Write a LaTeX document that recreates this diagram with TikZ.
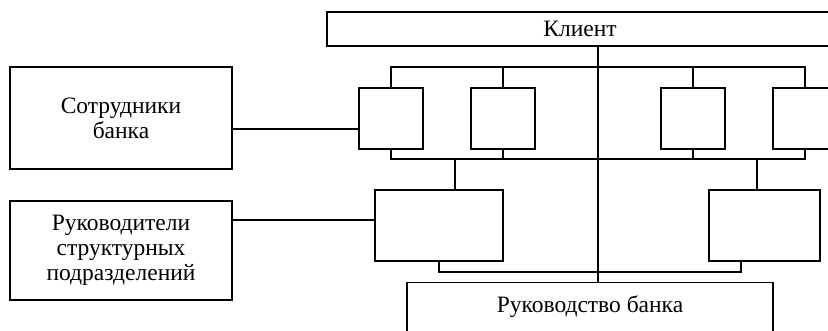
\documentclass[tikz,border=0pt]{standalone}
\usepackage{fontspec}
\setmainfont{Liberation Serif}
\begin{document}
\begin{tikzpicture}[x=1pt,y=-1pt,
  bx/.style={draw,line width=1.3pt,rectangle,inner sep=0pt,align=center,font=\fontsize{23.5}{25}\selectfont},
  ln/.style={line width=1.3pt}]
\useasboundingbox (0,0) rectangle (828,331);
\clip (0,0) rectangle (828,331);
\fill[white] (0,0) rectangle (828,331);
% nodes
\node[bx,minimum width=506pt,minimum height=34pt] (cl) at (580,29) {Клиент};
\node[bx,minimum width=64pt,minimum height=61pt] (b1) at (391,118.5) {};
\node[bx,minimum width=64pt,minimum height=61pt] (b2) at (503,118.5) {};
\node[bx,minimum width=64pt,minimum height=61pt] (b3) at (693,118.5) {};
\node[bx,minimum width=64pt,minimum height=61pt] (b4) at (805,118.5) {};
\node[bx,minimum width=128pt,minimum height=71pt] (l1) at (439,225.5) {};
\node[bx,minimum width=111pt,minimum height=71pt] (r1) at (764.5,225.5) {};
\node[bx,minimum width=222pt,minimum height=102pt] (s1) at (121,118) {Сотрудники\\банка};
\node[bx,minimum width=222pt,minimum height=99pt] (s2) at (121,250.5) {Руководители\\структурных\\подразделений};
\node[bx,anchor=north,minimum width=366pt,text height=30pt,text depth=30pt] (rb) at (590,282) {Руководство банка};
% connectors
\coordinate (ctop) at (598,46);
\draw[ln] (cl.south -| ctop) -- (rb.north -| ctop);
\coordinate (tb) at (0,67);
\coordinate (bb) at (0,159);
\draw[ln] (b1.north) -- (b1.north |- tb) -- (b4.north |- tb) -- (b4.north);
\draw[ln] (b2.north) -- (b2.north |- tb);
\draw[ln] (b3.north) -- (b3.north |- tb);
\draw[ln] (b1.south) -- (b1.south |- bb) -- (b4.south |- bb) -- (b4.south);
\draw[ln] (b2.south) -- (b2.south |- bb);
\draw[ln] (b3.south) -- (b3.south |- bb);
\coordinate (lt) at (455,0);
\coordinate (rt) at (757,0);
\draw[ln] (lt |- bb) -- (lt |- l1.north);
\draw[ln] (rt |- bb) -- (rt |- r1.north);
\coordinate (lbot) at (439,272);
\coordinate (rbot) at (741,272);
\draw[ln] (l1.south -| lbot) -- (lbot) -- (rbot) -- (r1.south -| rbot);
\coordinate (y1) at (0,129);
\coordinate (y2) at (0,220);
\draw[ln] (s1.east |- y1) -- (b1.west |- y1);
\draw[ln] (s2.east |- y2) -- (l1.west |- y2);
\end{tikzpicture}
\end{document}
